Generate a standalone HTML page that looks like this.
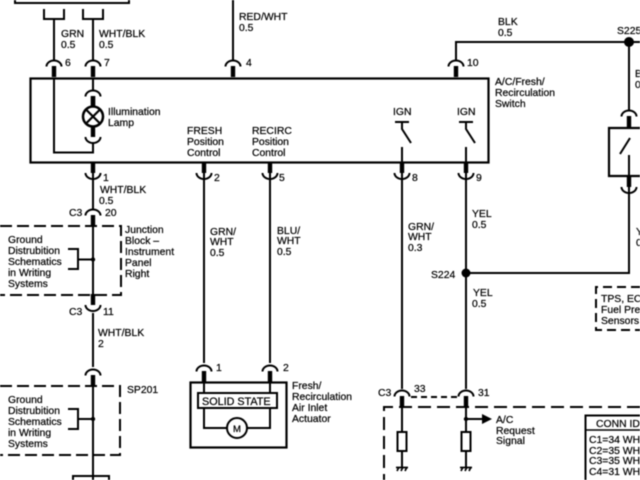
<!DOCTYPE html>
<html><head><meta charset="utf-8"><style>
html,body{margin:0;padding:0;background:#fff;width:640px;height:480px;overflow:hidden}
svg{display:block;filter:blur(0.4px)}
text{font-family:"Liberation Sans",sans-serif;font-size:10.4px;fill:#000;stroke:#000;stroke-width:.22px}
</style></head><body>
<svg width="640" height="480" viewBox="0 0 640 480" xmlns="http://www.w3.org/2000/svg">
<defs>
<g id="t"><path d="M-7.500 6.500A7.500 6 0 0 1 7.500 6.500" fill="none" stroke="#000" stroke-width="2"/><rect x="-2.200" y="6" width="4.400" height="11" fill="#000"/></g>
<g id="b"><path d="M-7.500 11A7.500 6 0 0 0 7.500 11" fill="none" stroke="#000" stroke-width="2"/><rect x="-2.200" y="0" width="4.400" height="11" fill="#000"/></g>
</defs>
<g fill="none" stroke="#000" stroke-width="2">
<path d="M15 0V3H129V0"/>
<path d="M44 9V19H64V9M83 9V19H103V9"/>
<path d="M54 19V60M93 19V60M233 0V60"/>
<rect x="30.500" y="78.500" width="458" height="84" stroke-width="2.200"/>
<path d="M54 78V152.500H93V143M93 78V90"/>
<path d="M456 60V42H640M629 42V110"/>
<path d="M629 155V176M629 187V273H466"/>
<path d="M640 128H609V176H640" stroke-width="2.200"/>
<path d="M620 154L630 138"/>
<circle cx="93" cy="116.500" r="10" stroke-width="2.500"/>
<path d="M86 109.500L100 123.500M100 109.500L86 123.500" stroke-width="2.200"/>
<path d="M395 122H409M402 121V129L411 143M402 147V162M459 122H473M466 121V129L475 143M466 147V162" />
<path d="M93 173V209M93 226V294M93 313V367M93 386V480"/>
<path d="M204 173V363M270 173V363M402 173V389M466 173V389"/>
<path d="M0 226H121V295H0" stroke-width="2" stroke-dasharray="12 5"/>
<path d="M0 386H120V455H0" stroke-width="2" stroke-dasharray="12 5"/>
<path d="M68 249H78V269H68M78 259.500H93"/>
<path d="M68 409H78V429H68M78 419H93"/>
<path d="M73 480V476H109V480"/>
<rect x="190.500" y="382.500" width="96" height="65" stroke-width="2.200"/>
<rect x="198" y="393" width="79" height="15" stroke-width="2"/>
<path d="M204 382V393M270 382V393M204 408V428H227M247 428H270V408"/>
<circle cx="237" cy="428" r="10" stroke-width="2"/>
<path d="M411 397H458" stroke-dasharray="6 4"/>
<path d="M640 407H384V480" stroke-width="2" stroke-dasharray="13 6"/>
<path d="M402 407V432M402 451V468M466 407V432M466 451V468M466 419H484"/>
<rect x="397.500" y="432" width="9" height="19" fill="#fff"/>
<rect x="461.500" y="432" width="9" height="19" fill="#fff"/>
<path d="M396 467.500H408M399 467L397 471M403 467L401 471M407 467L405 471M460 467.500H472M463 467L461 471M467 467L465 471M471 467L469 471" stroke-width="1.700"/>
<path d="M640 287H596V330H640" stroke-width="2" stroke-dasharray="9 5"/>
<rect x="585.500" y="415.500" width="60" height="70" stroke-width="2"/>
<path d="M585 430H640" stroke-width="1.600"/>
</g>
<path d="M482 414L492 419L482 424Z" fill="#000"/>
<circle cx="629" cy="42" r="5" fill="#000"/>
<circle cx="466" cy="273" r="4.500" fill="#000"/>
<circle cx="93" cy="259.500" r="2.200" fill="#000"/>
<circle cx="93" cy="419" r="2.200" fill="#000"/>
<circle cx="466" cy="419" r="2.200" fill="#000"/>
<use href="#t" x="54" y="60"/><use href="#t" x="93" y="60"/><use href="#t" x="233" y="60"/><use href="#t" x="456" y="60"/>
<use href="#t" x="93" y="90"/><use href="#t" x="629" y="110"/><use href="#t" x="93" y="209"/><use href="#t" x="93" y="369"/>
<use href="#t" x="204" y="365"/><use href="#t" x="270" y="365"/>
<use href="#t" x="402" y="390"/><use href="#t" x="466" y="390"/>
<use href="#b" x="93" y="162"/><use href="#b" x="204" y="162"/><use href="#b" x="270" y="162"/><use href="#b" x="402" y="162"/><use href="#b" x="466" y="162"/>
<use href="#b" x="93" y="126"/><use href="#b" x="629" y="176"/><use href="#b" x="93" y="294"/>
<rect x="90.800" y="96" width="4.400" height="11" fill="#000"/>
<text x="61" y="37">GRN</text><text x="61" y="48">0.5</text>
<text x="99" y="37">WHT/BLK</text><text x="99" y="48">0.5</text>
<text x="239" y="20">RED/WHT</text><text x="239" y="31">0.5</text>
<text x="498" y="25">BLK</text><text x="498" y="36">0.5</text>
<text x="617" y="34">S225</text>
<text x="65" y="66">6</text><text x="104" y="66">7</text><text x="246" y="66">4</text><text x="467" y="66">10</text>
<text x="495" y="85">A/C/Fresh/</text><text x="495" y="96">Recirculation</text><text x="495" y="107">Switch</text>
<text x="108" y="115">Illumination</text><text x="108" y="126">Lamp</text>
<text x="187" y="134">FRESH</text><text x="187" y="145">Position</text><text x="187" y="156">Control</text>
<text x="252" y="134">RECIRC</text><text x="252" y="145">Position</text><text x="252" y="156">Control</text>
<text x="393" y="115">IGN</text><text x="457" y="115">IGN</text>
<text x="103" y="181">1</text><text x="214" y="181">2</text><text x="279" y="181">5</text><text x="412" y="181">8</text><text x="476" y="181">9</text>
<text x="100" y="193">WHT/BLK</text><text x="99" y="204">0.5</text>
<text x="69" y="216">C3</text><text x="105" y="216">20</text>
<text x="125" y="233">Junction</text><text x="125" y="244">Block –</text><text x="125" y="255">Instrument</text><text x="125" y="266">Panel</text><text x="125" y="277">Right</text>
<text x="8" y="243">Ground</text><text x="8" y="254">Distrubition</text><text x="8" y="265">Schematics</text><text x="8" y="276">in Writing</text><text x="8" y="287">Systems</text>
<text x="69" y="315">C3</text><text x="103" y="315">11</text>
<text x="98" y="336">WHT/BLK</text><text x="98" y="347">2</text>
<text x="127" y="393">SP201</text>
<text x="8" y="403">Ground</text><text x="8" y="414">Distrubition</text><text x="8" y="425">Schematics</text><text x="8" y="436">in Writing</text><text x="8" y="447">Systems</text>
<text x="210" y="235">GRN/</text><text x="210" y="245">WHT</text><text x="210" y="256">0.5</text>
<text x="277" y="234">BLU/</text><text x="277" y="244">WHT</text><text x="277" y="255">0.5</text>
<text x="408" y="230">GRN/</text><text x="408" y="240">WHT</text><text x="408" y="251">0.3</text>
<text x="472" y="217">YEL</text><text x="472" y="228">0.5</text>
<text x="431" y="278">S224</text>
<text x="473" y="296">YEL</text><text x="472" y="307">0.5</text>
<text x="635" y="77">B</text><text x="635" y="88">0</text><text x="636" y="235">Y</text><text x="636" y="246">0</text>
<text x="216" y="371">1</text><text x="283" y="371">2</text>
<text x="202" y="405" style="font-size:10.800px">SOLID STATE</text>
<text x="233" y="432" style="font-size:9.500px">M</text>
<text x="292" y="389">Fresh/</text><text x="292" y="400">Recirculation</text><text x="292" y="411">Air Inlet</text><text x="292" y="422">Actuator</text>
<text x="378" y="396">C3</text><text x="414" y="392">33</text><text x="478" y="396">31</text>
<text x="496" y="423">A/C</text><text x="496" y="434">Request</text><text x="496" y="444">Signal</text>
<text x="601" y="302">TPS, ECT</text><text x="601" y="313">Fuel Pressure</text><text x="601" y="324">Sensors</text>
<text x="596" y="427">CONN ID</text>
<text x="589" y="443">C1=34 WHT</text><text x="589" y="454">C2=35 WHT</text><text x="589" y="464">C3=35 WHT</text><text x="589" y="475">C4=31 WHT</text>
</svg>
</body></html>
